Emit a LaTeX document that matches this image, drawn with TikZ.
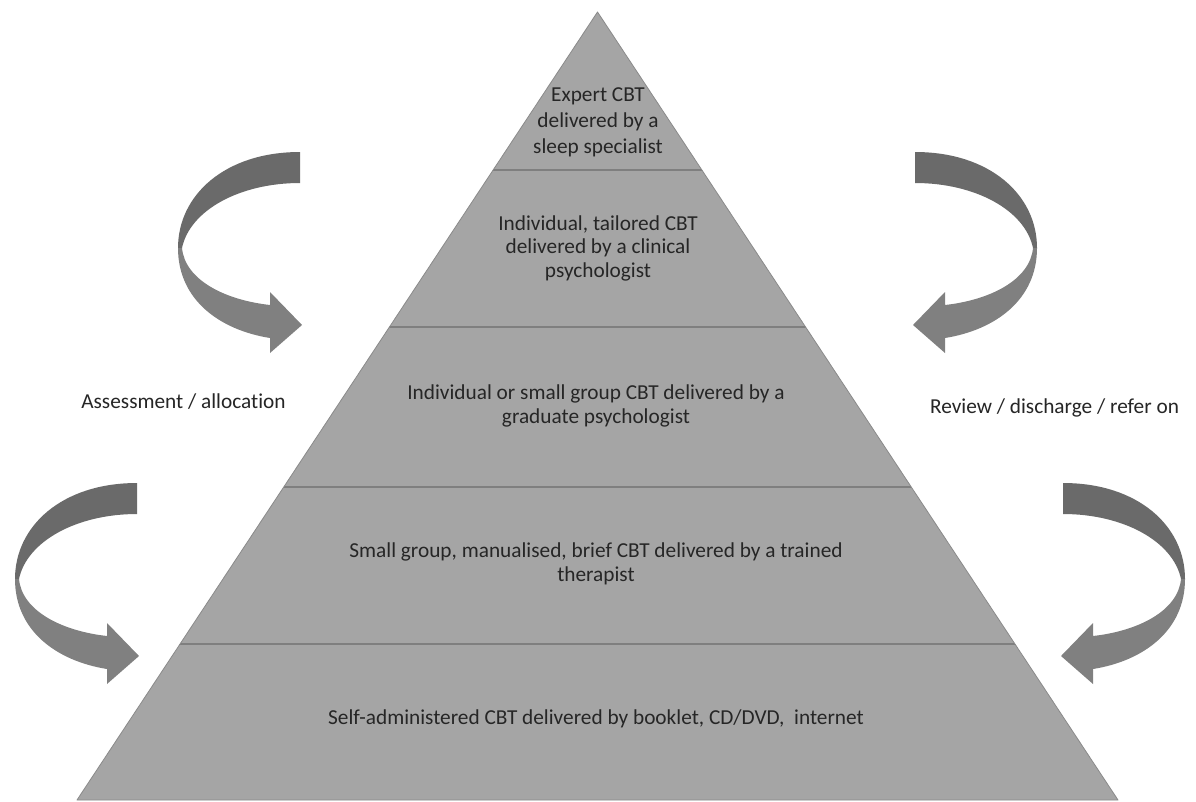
\documentclass[tikz,border=0pt]{standalone}
\usepackage{fontspec}
\setmainfont{Carlito}[Ligatures=NoCommon]
\definecolor{pyrfill}{HTML}{A5A5A5}
\definecolor{pyredge}{HTML}{8A8A8A}
\definecolor{bandline}{HTML}{7F7F7F}
\definecolor{arrdark}{HTML}{6A6A6A}
\definecolor{arrlight}{HTML}{808080}
\definecolor{txt}{HTML}{262626}
\tikzset{
  pics/curlarrow/.style={code={
    \begin{scope}[xscale=#1]
    \fill[arrdark] (0,0) .. controls (-75,0) and (-122,43) .. (-122,96)
      -- (-118,96) .. controls (-110,58) and (-60,31) .. (0,31) -- cycle;
    \fill[arrlight] (-122,96) .. controls (-122,148) and (-80,178) .. (-30,186)
      -- (-30,201) -- (2,173) -- (-30,140) -- (-30,153)
      .. controls (-75,148) and (-115,128) .. (-118,96) -- cycle;
    \end{scope}
  }},
  bandtext/.style={text=txt, align=center, inner sep=0pt},
  sidetext/.style={text=txt, inner sep=0pt, font=\fontsize{21.3}{25}\selectfont}
}
\begin{document}
\begin{tikzpicture}[x=1pt,y=-1pt]
\useasboundingbox (0,0) rectangle (1196,801);
\fill[white] (0,0) rectangle (1196,801);

% pyramid
\coordinate (apex) at (597.5,12);
\coordinate (br) at (1118,800);
\coordinate (bl) at (77,800);
\fill[pyrfill] (apex) -- (br) -- (bl) -- cycle;
\begin{scope}
  \clip (apex) -- (br) -- (bl) -- cycle;
  \foreach \yy in {170,327,487,644}
    \draw[bandline, line width=1.2pt] (0,\yy) -- (1196,\yy);
\end{scope}
\draw[pyredge, line width=0.8pt, line join=round] (apex) -- (br) -- (bl) -- cycle;

% arrows
\pic at (300,152) {curlarrow=1};
\pic at (137,483) {curlarrow=1};
\pic at (915,152) {curlarrow=-1};
\pic at (1063,483) {curlarrow=-1};

% texts
\node[bandtext, font=\fontsize{21.3}{26}\selectfont] (t1) at (598,122) {Expert CBT\\delivered by a\\sleep specialist};
\node[bandtext, font=\fontsize{21.3}{23.5}\selectfont] (t2) at (598,248) {Individual, tailored CBT\\delivered by a clinical\\psychologist};
\node[bandtext, font=\fontsize{21.3}{24}\selectfont] (t3) at (596,406) {Individual or small group CBT delivered by a\\graduate psychologist};
\node[bandtext, font=\fontsize{21.3}{24}\selectfont] (t4) at (596,564) {Small group, manualised, brief CBT delivered by a trained\\therapist};
\node[bandtext, font=\fontsize{21.3}{24}\selectfont] (t5) at (596,719) {Self-administered CBT delivered by booklet, CD/DVD,\ \ internet};

\node[sidetext] (left) at (183.5,402) {Assessment / allocation};
\node[sidetext] (right) at (1054.5,408) {Review / discharge / refer on};
\end{tikzpicture}
\end{document}
